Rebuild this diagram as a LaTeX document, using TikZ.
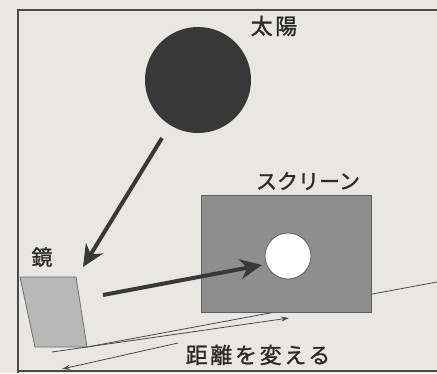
\documentclass[tikz,border=0pt]{standalone}
\usepackage{fontspec}
\newfontfamily\jp[FakeBold=1.2]{Noto Sans CJK JP}
\newfontfamily\jpw[LetterSpace=12,FakeBold=1.2]{Noto Sans CJK JP}
\usetikzlibrary{arrows.meta}
\definecolor{bgc}{HTML}{E9E7E3}
\definecolor{framec}{HTML}{4A4A4A}
\definecolor{sunc}{HTML}{383838}
\definecolor{scrfill}{HTML}{8E8E8E}
\definecolor{scrline}{HTML}{5E5E5E}
\definecolor{mirfill}{HTML}{B8B8B8}
\definecolor{mirline}{HTML}{6E6E6E}
\definecolor{txtc}{HTML}{2A2A2A}
\tikzset{
  lbl/.style={text=txtc, inner sep=0pt, font=\jp\fontsize{21}{21}\selectfont},
  wlbl/.style={text=txtc, inner sep=0pt, font=\jpw\fontsize{22}{22}\selectfont},
  bigarrow/.style={draw=sunc, line width=4pt, -{Stealth[length=22pt,width=20pt]}},
  thinarrow/.style={draw=framec, line width=0.8pt, -{Stealth[length=8pt,width=5pt]}},
  thinline/.style={draw=framec, line width=0.8pt}
}
\begin{document}
\begin{tikzpicture}[x=1pt,y=-1pt]
\fill[bgc] (0,0) rectangle (437,373);
\useasboundingbox (0,0) rectangle (437,373);
% frame
\draw[framec, line width=1.2pt] (18,373) -- (18,10) -- (437,10);
\draw[framec, line width=1.2pt] (18,371) -- (437,371);
% guide line behind screen
\coordinate (g1) at (87,347);
\coordinate (g2) at (437,282);
\draw[thinline] (g1) -- (g2);
% sun
\node[circle, fill=sunc, minimum size=106pt, inner sep=0pt] (sun) at (198,80) {};
\node[wlbl] (sunlbl) at (274,26) {太陽};
% screen
\node[rectangle, fill=scrfill, draw=scrline, line width=0.8pt, minimum width=170pt, minimum height=117pt, inner sep=0pt] (screen) at (286,253.5) {};
\node[circle, fill=white, draw=scrline, line width=0.8pt, minimum size=46pt, inner sep=0pt] (hole) at (288,256) {};
\node[lbl] (scrlbl) at (308,181) {スクリーン};
% mirror
\coordinate (m1) at (20,277);
\coordinate (m2) at (76,277);
\coordinate (m3) at (87,347);
\coordinate (m4) at (35,347);
\draw[fill=mirfill, draw=mirline, line width=0.8pt] (m1) -- (m2) -- (m3) -- (m4) -- cycle;
\node[lbl, anchor=base] (mirlbl) at (42,265) {鏡};
% big arrows
\coordinate (a1s) at (162,138);
\coordinate (a1e) at (83,267);
\draw[bigarrow] (a1s) -- (a1e);
\coordinate (a2s) at (103,295);
\coordinate (a2e) at (262,265);
\draw[bigarrow] (a2s) -- (a2e);
% distance arrows
\coordinate (d1s) at (52,352);
\coordinate (d1e) at (289,318);
\draw[thinarrow] (d1s) -- (d1e);
\coordinate (d2s) at (178,343);
\coordinate (d2e) at (62,369);
\draw[thinarrow] (d2s) -- (d2e);
\node[wlbl] (dist) at (258,355) {距離を変える};
\end{tikzpicture}
\end{document}
